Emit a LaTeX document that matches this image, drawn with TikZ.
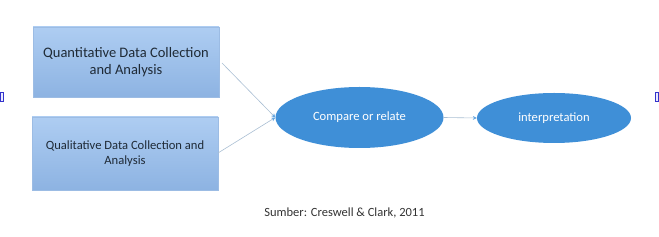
\documentclass[tikz,border=0pt]{standalone}
\usepackage{fontspec}
\setmainfont{Carlito}
\usetikzlibrary{shapes.geometric,arrows.meta}
\definecolor{boxtop}{HTML}{AECDF2}
\definecolor{boxbot}{HTML}{8DB3E2}
\definecolor{boxline}{HTML}{9CBCE4}
\definecolor{ellfill}{HTML}{3F8FD7}
\definecolor{conn}{HTML}{A9BED3}
\definecolor{txt}{HTML}{1F2A36}
\tikzset{
  databox/.style={rectangle, draw=boxline, line width=0.6pt, top color=boxtop, bottom color=boxbot, align=center, text=txt, inner sep=0pt},
  oval/.style={ellipse, fill=ellfill, draw=none, text=white, inner sep=0pt, font=\fontsize{12.6}{14}\selectfont},
  conn/.style={draw=conn, line width=0.6pt, -{Stealth[length=4pt,width=4pt,color=ellfill!80]}},
  handle/.style={draw=blue!60!gray, fill=blue!8, line width=0.5pt, inner sep=0pt}
}
\begin{document}
\begin{tikzpicture}[x=1pt,y=-1pt]
\useasboundingbox (0,0) rectangle (659,237);
\node[databox, minimum width=186pt, minimum height=70pt, font=\fontsize{14.5}{17}\selectfont] (qn) at (126,62) {Quantitative Data Collection\\and Analysis};
\node[databox, minimum width=186pt, minimum height=73pt, font=\fontsize{12.6}{15.5}\selectfont] (ql) at (125,153.5) {Qualitative Data Collection and\\Analysis};
\node[oval, minimum width=168pt, minimum height=61pt] (cr) at (359.5,117.5) {Compare or relate};
\node[oval, minimum width=154pt, minimum height=50pt] (in) at (554,118) {interpretation};
\node[font=\fontsize{12.5}{14}\selectfont, text=black!80] (src) at (344.5,213) {Sumber: Creswell \& Clark, 2011};
\coordinate (q1) at (222,63);
\coordinate (q2) at (218,153);
\draw[conn] (q1) -- (cr.west);
\draw[conn] (q2) -- (cr.west);
\draw[conn] (cr.east) -- (in.west);
\node[handle, minimum width=3pt, minimum height=9pt] (h1) at (1.5,97) {};
\node[handle, minimum width=3pt, minimum height=9pt] (h2) at (657,97) {};
\end{tikzpicture}
\end{document}
